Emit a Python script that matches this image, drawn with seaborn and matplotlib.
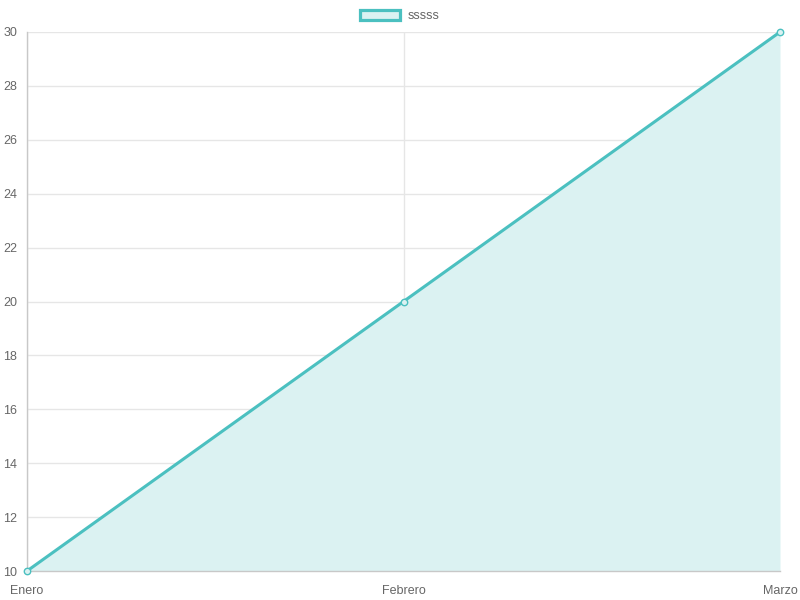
import matplotlib
matplotlib.use("Agg")
import matplotlib.pyplot as plt
import seaborn as sns
import pandas as pd
from matplotlib.patches import Patch

categories = ["Enero", "Febrero", "Marzo"]
values = [10, 20, 30]
series_name = "sssss"
yticks = [10, 12, 14, 16, 18, 20, 22, 24, 26, 28, 30]

sns.set_theme(style="white")
plt.rcParams['font.family'] = ['Liberation Sans', 'DejaVu Sans']

line_color = "#4bc0c0"
fill_color = "#dbf2f2"
grid_color = "#e6e6e6"
axis_color = "#c8c8c8"

df = pd.DataFrame({"x": list(range(len(categories))), "y": values})

fig = plt.figure(figsize=(8, 6), dpi=100)
ax = fig.add_axes([27/800, 29/600, 753/800, 539/600])

ax.fill_between(df["x"], df["y"], 10, color=fill_color, linewidth=0, zorder=1)
sns.lineplot(data=df, x="x", y="y", ax=ax, color=line_color, linewidth=2.2,
             marker="o", markersize=4.6, markerfacecolor=fill_color,
             markeredgecolor=line_color, markeredgewidth=1.0, zorder=3)

ax.set_xlim(0, len(categories) - 1)
ax.set_ylim(10, 30)
ax.set_xticks(range(len(categories)))
ax.set_xticklabels(categories)
ax.set_yticks(yticks)
ax.set_xlabel("")
ax.set_ylabel("")

ax.grid(True, color=grid_color, linewidth=1, alpha=1)
ax.set_axisbelow(True)
for s in ["top", "right"]:
    ax.spines[s].set_visible(False)
for s in ["left", "bottom"]:
    ax.spines[s].set_color(axis_color)
    ax.spines[s].set_linewidth(1)

ax.tick_params(axis="both", which="both", labelsize=9, labelcolor="#666666",
               color=grid_color, length=6, width=1)
ax.tick_params(axis="y", pad=1)
ax.tick_params(axis="x", pad=4)

handle = Patch(facecolor=fill_color, edgecolor=line_color, linewidth=2.3)
leg = fig.legend(handles=[handle], labels=[series_name], loc="center",
                 bbox_to_anchor=(0.5, 1 - 16/600), frameon=False,
                 handlelength=3.2, handleheight=0.9, handletextpad=0.6,
                 fontsize=9)
for t in leg.get_texts():
    t.set_color("#666666")

for line in ax.lines:
    line.set_clip_on(False)

fig.savefig("out.png", dpi=100)
